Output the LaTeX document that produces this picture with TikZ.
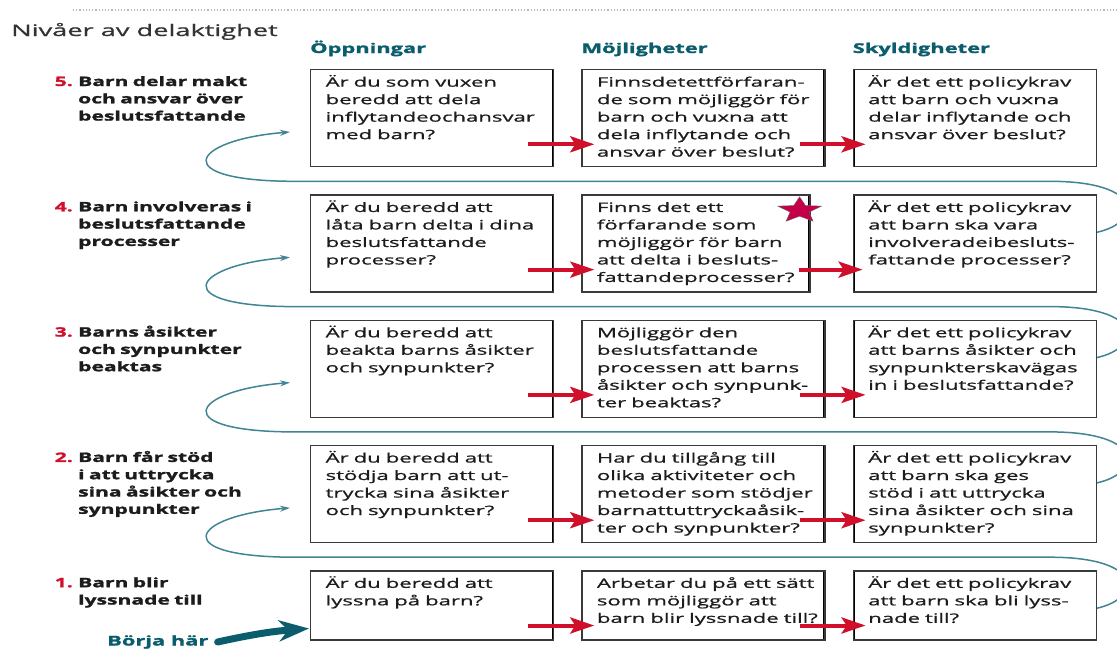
\documentclass[tikz,border=0pt]{standalone}
\usepackage{fontspec}
\setmainfont{Open Sans}[FakeStretch=1.7, FakeBold=1.0]
\newfontfamily\tungfont{Open Sans}[FakeStretch=1.62, FakeBold=1.6]
\usetikzlibrary{positioning,arrows.meta,shapes.geometric}
\definecolor{petrol}{HTML}{0B5D6E}
\definecolor{slingfarg}{HTML}{3F8592}
\definecolor{rod}{HTML}{D0102B}
\definecolor{stjarnfarg}{HTML}{C4004A}
\definecolor{ram}{HTML}{3A3A3A}
\definecolor{brodtext}{HTML}{1C1C1C}

\begin{document}
\begin{tikzpicture}[x=1pt, y=-1pt, node distance=27pt,
    fraga/.style={draw=ram, line width=1.3pt, rectangle, inner xsep=15pt, inner ysep=4pt,
        text width=213pt, text height=13pt, text depth=76pt, align=left,
        font=\fontsize{13}{17.5}\selectfont, text=brodtext,
        execute at begin node={\rightskip=-18pt plus 1fil\spaceskip=5pt plus 1pt minus 1pt}},
    kort/.style={text depth=48pt},
    smal/.style={text width=198pt},
    hoger/.style={path picture={\draw[line width=4pt, black]
        (path picture bounding box.north east) -- (path picture bounding box.south east);}},
    vanster/.style={path picture={\draw[line width=4pt, black]
        (path picture bounding box.north west) -- (path picture bounding box.south west);}},
    niva/.style={inner sep=0pt, text width=200pt, align=left,
        font=\tungfont\bfseries\fontsize{13}{17.3}\selectfont, text=brodtext},
    nummer/.style={inner sep=0pt, font=\tungfont\bfseries\fontsize{13}{17.3}\selectfont, text=rod},
    rubrik/.style={inner sep=0pt, font=\tungfont\bfseries\fontsize{13.5}{16}\selectfont, text=petrol},
    titel/.style={inner sep=0pt, font=\fontsize{16}{18}\selectfont, text=black!80},
    start/.style={inner sep=0pt, font=\tungfont\bfseries\fontsize{13.5}{16}\selectfont, text=petrol},
    rodpil/.style={draw=rod, line width=4pt, -{Stealth[length=24pt,width=16pt,inset=5pt]}},
    slinga/.style={draw=slingfarg, line width=1.5pt, -{Stealth[length=10pt,width=6pt]}},
    startpil/.style={draw=petrol, line width=7pt, line cap=round,
        -{Stealth[length=30pt,width=21pt,inset=9pt]}}]

    \useasboundingbox (0,0) rectangle (1117,651);
    \clip (0,0) rectangle (1117,651);

    \draw[dotted, line width=1.2pt, gray!55] (73,10) -- (1117,10);
    \node[titel, anchor=base west] (titel) at (11,36) {Nivåer av delaktighet};

    \node[fraga, hoger, anchor=north west] (opp5) at (310,69)
         {Är du som vuxen\\beredd att dela\\inflytandeochansvar\\med barn?};
         \node[fraga, hoger, right=of opp5] (mo5)
              {Finnsdetettförfaran-\\de som möjliggör för\\barn och vuxna att\\dela inflytande och\\ansvar över beslut?};
         \node[fraga, vanster, right=of mo5] (sky5)
              {Är det ett policykrav\\att barn och vuxna\\delar inflytande och\\ansvar över beslut?};

    \node[rubrik, anchor=base west] (oppningar) at ([yshift=16pt]opp5.north west) {Öppningar};
    \node[rubrik, anchor=base west] (mojligheter) at ([yshift=16pt]mo5.north west) {Möjligheter};
    \node[rubrik, anchor=base west] (skyldigheter) at ([yshift=16pt]sky5.north west) {Skyldigheter};

    \node[fraga, hoger, below=of opp5] (opp4)
         {Är du beredd att\\låta barn delta i dina\\beslutsfattande\\processer?};
         \node[fraga, smal, hoger, right=of opp4] (mo4)
              {Finns det ett\\förfarande som\\möjliggör för barn\\att delta i besluts-\\fattandeprocesser?};
         \node[fraga, vanster, below=of sky5] (sky4)
              {Är det ett policykrav\\att barn ska vara\\involveradeibesluts-\\fattande processer?};

    \node[fraga, hoger, below=of opp4] (opp3)
         {Är du beredd att\\beakta barns åsikter\\och synpunkter?};
         \node[fraga, hoger, right=of opp3] (mo3)
              {Möjliggör den\\beslutsfattande\\processen att barns\\åsikter och synpunk-\\ter beaktas?};
         \node[fraga, vanster, right=of mo3] (sky3)
              {Är det ett policykrav\\att barns åsikter och\\synpunkterskavägas\\in i beslutsfattande?};

    \node[fraga, hoger, below=of opp3] (opp2)
         {Är du beredd att\\stödja barn att ut-\\trycka sina åsikter\\och synpunkter?};
         \node[fraga, hoger, right=of opp2] (mo2)
              {Har du tillgång till\\olika aktiviteter och\\metoder som stödjer\\barnattuttryckaåsik-\\ter och synpunkter?};
         \node[fraga, vanster, right=of mo2] (sky2)
              {Är det ett policykrav\\att barn ska ges\\stöd i att uttrycka\\sina åsikter och sina\\synpunkter?};

    \node[fraga, kort, hoger, below=of opp2] (opp1)
         {Är du beredd att\\lyssna på barn?};
         \node[fraga, kort, hoger, right=of opp1] (mo1)
              {Arbetar du på ett sätt\\som möjliggör att\\barn blir lyssnade till?};
         \node[fraga, kort, vanster, right=of mo1] (sky1)
              {Är det ett policykrav\\att barn ska bli lyss-\\nade till?};

    \node[niva, anchor=base west] (niva5) at ([xshift=-232pt,yshift=-17pt]opp5.north west)
         {Barn delar makt\\och ansvar över\\beslutsfattande};
    \node[niva, anchor=base west] (niva4) at ([xshift=-232pt,yshift=-17pt]opp4.north west)
         {Barn involveras i\\beslutsfattande\\processer};
    \node[niva, anchor=base west] (niva3) at ([xshift=-232pt,yshift=-17pt]opp3.north west)
         {Barns åsikter\\och synpunkter\\beaktas};
    \node[niva, anchor=base west] (niva2) at ([xshift=-232pt,yshift=-17pt]opp2.north west)
         {Barn får stöd\\i att uttrycka\\sina åsikter och\\synpunkter};
    \node[niva, anchor=base west] (niva1) at ([xshift=-232pt,yshift=-17pt]opp1.north west)
         {Barn blir\\lyssnade till};
    \node[nummer, anchor=base east] (nr5) at ([xshift=-5pt]niva5.base west) {5.};
    \node[nummer, anchor=base east] (nr4) at ([xshift=-5pt]niva4.base west) {4.};
    \node[nummer, anchor=base east] (nr3) at ([xshift=-5pt]niva3.base west) {3.};
    \node[nummer, anchor=base east] (nr2) at ([xshift=-5pt]niva2.base west) {2.};
    \node[nummer, anchor=base east] (nr1) at ([xshift=-5pt]niva1.base west) {1.};

    \coordinate (stjarnpunkt) at ([xshift=-11pt,yshift=-16pt]mo4.north east);
    \begin{scope}[shift={(stjarnpunkt)}, xscale=1.7]
        \node[star, star points=5, star point ratio=2.3, fill=stjarnfarg, draw=black!60,
              line width=0.4pt, minimum size=27pt, inner sep=0pt, transform shape] (stjarna) at (0,0) {};
    \end{scope}

    \node[start, anchor=base west] (borja) at ([xshift=-203pt,yshift=-5pt]opp1.south west) {Börja här};
    \draw[startpil] ([xshift=9pt]borja.east) to[bend left=4] ([xshift=-1pt,yshift=12pt]opp1.south west);

    \path ([xshift=-26pt,yshift=23pt]opp5.south east) edge[rodpil] ([xshift=13pt,yshift=23pt]mo5.south west);
    \path ([xshift=-26pt,yshift=23pt]mo5.south east) edge[rodpil] ([xshift=13pt,yshift=23pt]sky5.south west);
    \path ([xshift=-26pt,yshift=23pt]opp4.south east) edge[rodpil] ([xshift=13pt,yshift=23pt]mo4.south west);
    \path ([xshift=-12pt,yshift=23pt]mo4.south east) edge[rodpil] ([xshift=10pt,yshift=23pt]sky4.south west);
    \path ([xshift=-26pt,yshift=23pt]opp3.south east) edge[rodpil] ([xshift=13pt,yshift=23pt]mo3.south west);
    \path ([xshift=-26pt,yshift=23pt]mo3.south east) edge[rodpil] ([xshift=13pt,yshift=23pt]sky3.south west);
    \path ([xshift=-26pt,yshift=23pt]opp2.south east) edge[rodpil] ([xshift=13pt,yshift=23pt]mo2.south west);
    \path ([xshift=-26pt,yshift=23pt]mo2.south east) edge[rodpil] ([xshift=13pt,yshift=23pt]sky2.south west);
    \path ([xshift=-26pt,yshift=15pt]opp1.south east) edge[rodpil] ([xshift=13pt,yshift=15pt]mo1.south west);
    \path ([xshift=-26pt,yshift=15pt]mo1.south east) edge[rodpil] ([xshift=13pt,yshift=15pt]sky1.south west);

    \draw[slinga] ([yshift=-38pt]sky1.north east) .. controls +(45,-10) and +(95,0) .. ([xshift=-47pt,yshift=-14pt]sky2.south east)
        -- ([xshift=-10pt,yshift=-14pt]opp2.south west) .. controls +(-135,1) and +(-100,8) .. ([xshift=-20pt,yshift=-63pt]opp2.north west);
    \draw[slinga] ([yshift=-38pt]sky2.north east) .. controls +(45,-10) and +(95,0) .. ([xshift=-47pt,yshift=-14pt]sky3.south east)
        -- ([xshift=-10pt,yshift=-14pt]opp3.south west) .. controls +(-135,1) and +(-100,8) .. ([xshift=-20pt,yshift=-63pt]opp3.north west);
    \draw[slinga] ([yshift=-38pt]sky3.north east) .. controls +(45,-10) and +(95,0) .. ([xshift=-47pt,yshift=-14pt]sky4.south east)
        -- ([xshift=-10pt,yshift=-14pt]opp4.south west) .. controls +(-135,1) and +(-100,8) .. ([xshift=-20pt,yshift=-63pt]opp4.north west);
    \draw[slinga] ([yshift=-38pt]sky4.north east) .. controls +(45,-10) and +(95,0) .. ([xshift=-47pt,yshift=-14pt]sky5.south east)
        -- ([xshift=-10pt,yshift=-14pt]opp5.south west) .. controls +(-135,1) and +(-100,8) .. ([xshift=-20pt,yshift=-63pt]opp5.north west);
\end{tikzpicture}
\end{document}
